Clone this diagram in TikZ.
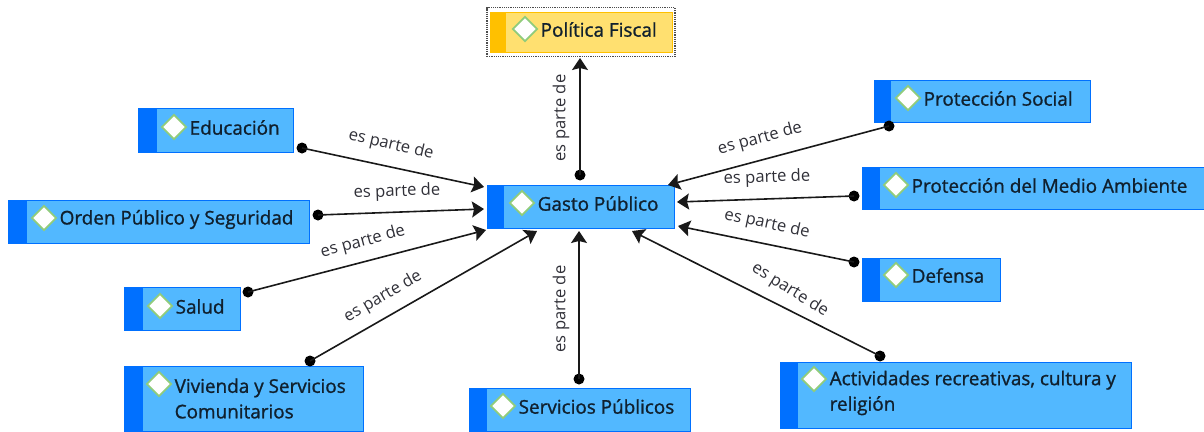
\documentclass[tikz,border=0pt]{standalone}
\usepackage{fontspec}
\setmainfont[FakeBold=1.1]{Open Sans}
\newfontfamily\relfont{Open Sans}
\usetikzlibrary{arrows.meta,shapes.geometric}
\definecolor{bfill}{HTML}{52B8FF}
\definecolor{bedge}{HTML}{0070FF}
\definecolor{yfill}{HTML}{FFE070}
\definecolor{yedge}{HTML}{FFC000}
\definecolor{dgreen}{HTML}{90CC7C}
\definecolor{txt}{HTML}{10202E}
\definecolor{lbl}{HTML}{303038}
\tikzset{
  x=1pt,y=-1pt,
  boxbase/.style={rectangle,inner sep=0pt,outer sep=0pt,line width=1.2pt},
  mark diamond/.style={diamond,draw=dgreen,fill=white,line width=1.8pt,inner sep=0pt,minimum width=25pt,minimum height=25pt},
  boxtext/.style={anchor=west,inner sep=0pt,text=txt,font=\fontsize{18.9}{25.5}\selectfont,align=left},
  dotnode/.style={circle,fill=black,inner sep=0pt,minimum size=11pt},
  conn/.style={line width=1.6pt,draw=black!90,-{Stealth[length=12pt,width=16pt,inset=2pt]}},
  rel/.style={inner sep=0pt,text=lbl,font=\relfont\fontsize{16.6}{18}\selectfont},
}
\def\tyo{0.5}
% name, x0,y0,x1,y1, stripe end, diamond x,y, text
\newcommand{\cbox}[9]{%
  \pgfmathsetmacro{\bw}{#4-#2}\pgfmathsetmacro{\bh}{#5-#3}%
  \pgfmathsetmacro{\bcx}{(#2+#4)/2+0.5}\pgfmathsetmacro{\bcy}{(#3+#5)/2+0.5}%
  \node[boxbase,draw=bedge,fill=bfill,minimum width=\bw pt,minimum height=\bh pt] (#1) at (\bcx,\bcy) {};
  \fill[bedge] (#2+0.5,#3+0.5) rectangle (#6+0.5,#5+0.5);
  \node[mark diamond] (#1-d) at (#7,#8) {};
  \node[boxtext] (#1-t) at (#7+15.5,#8+\tyo) {#9};
}
\begin{document}
\begin{tikzpicture}
\useasboundingbox (0,0) rectangle (1204,431);
% Politica Fiscal
\node[boxbase,draw=black!70,densely dotted,line width=1.2pt,minimum width=188pt,minimum height=49pt] (pf-o) at (581,32) {};
\node[boxbase,draw=yedge,fill=yfill,minimum width=182pt,minimum height=40pt] (pf) at (581.5,32.5) {};
\fill[yedge] (490.5,12.5) rectangle (506,52.5);
\node[mark diamond] (pf-d) at (525,29) {};
\node[boxtext] (pf-t) at (540.5,29.5) {Política Fiscal};
\cbox{gasto}{487}{185}{674}{228}{503}{522}{203}{Gasto Público}
\cbox{edu}{138}{108}{293}{152}{156}{174}{127}{Educación}
\def\tyo{1.5}
\cbox{orden}{8}{200}{309}{243}{26}{44}{218}{Orden Público y Seguridad}
\def\tyo{0.5}
\cbox{salud}{124}{287}{240}{330}{142}{160}{306}{Salud}
\def\tyo{14.5}
\cbox{viv}{124}{366}{363}{431}{142}{159}{384}{Vivienda y Servicios\\Comunitarios}
\def\tyo{14}
\cbox{act}{780}{362}{1131}{428}{797}{814}{379}{Actividades recreativas, cultura y\\religión}
\def\tyo{0.5}
\cbox{serv}{469}{388}{690}{431}{486}{503}{406}{Servicios Públicos}
\cbox{def}{862}{258}{1000}{301}{879}{896}{275}{Defensa}
\cbox{med}{862}{167}{1204}{209}{879}{896}{185}{Protección del Medio Ambiente}
\cbox{soc}{874}{80}{1090}{122}{890}{908}{98}{Protección Social}
% connector ends
\node[dotnode] (d1) at (302,148) {};
\node[dotnode] (d2) at (318,215) {};
\node[dotnode] (d3) at (248,292) {};
\node[dotnode] (d4) at (310,361) {};
\node[dotnode] (d5) at (579,379) {};
\node[dotnode] (d6) at (880,356) {};
\node[dotnode] (d7) at (854,262) {};
\node[dotnode] (d8) at (854,196) {};
\node[dotnode] (d9) at (889,126) {};
\node[dotnode] (d10) at (580,175) {};
\coordinate (t1) at (484,187);
\coordinate (t2) at (484,209);
\coordinate (t3) at (486,230);
\coordinate (t4) at (537,231);
\coordinate (t5) at (579,231);
\coordinate (t6) at (632,231);
\coordinate (t7) at (678,226);
\coordinate (t8) at (677,202);
\coordinate (t9) at (668,185);
\coordinate (t10) at (580,58);
\foreach \i in {1,...,10}{\draw[conn] (d\i.center) -- (t\i);}
% labels
\node[rel,rotate=-13] (l1) at (391,145) {es parte de};
\node[rel,rotate=2] (l2) at (397,192) {es parte de};
\node[rel,rotate=15] (l3) at (363,242) {es parte de};
\node[rel,rotate=30] (l4) at (383,297) {es parte de};
\node[rel,rotate=90] (l5) at (561,309) {es parte de};
\node[rel,rotate=-32] (l6) at (790,290) {es parte de};
\node[rel,rotate=-12] (l7) at (767,224) {es parte de};
\node[rel,rotate=2] (l8) at (767,178) {es parte de};
\node[rel,rotate=15] (l9) at (760,139) {es parte de};
\node[rel,rotate=90] (l10) at (561,118) {es parte de};
\end{tikzpicture}
\end{document}
